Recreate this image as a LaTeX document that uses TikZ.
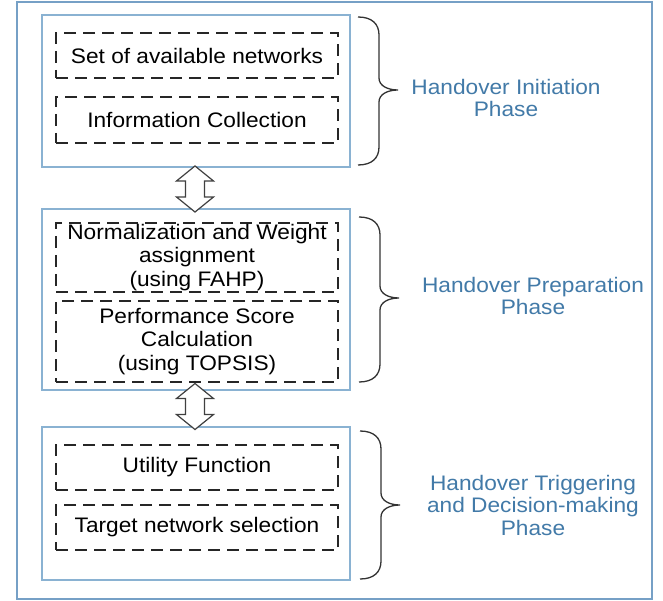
\documentclass[tikz,border=0pt]{standalone}
\usepackage{fontspec}
\setmainfont{Liberation Sans}[FakeStretch=1.08]
\usepackage{tikz}
\usetikzlibrary{calc}
\definecolor{frameblue}{RGB}{118,160,198}
\definecolor{phaseblue}{RGB}{138,178,210}
\definecolor{labelblue}{RGB}{66,122,168}
\tikzset{
    outerbox/.style={rectangle, draw=frameblue, line width=2pt, fill=white},
    phasebox/.style={rectangle, draw=phaseblue, line width=1.5pt, minimum width=308pt},
    taskbox/.style={rectangle, draw=black!85, line width=1.4pt, dash pattern=on 12pt off 7pt,
        minimum width=282pt, inner sep=0pt, align=center, font=\fontsize{21}{23.5}\selectfont},
    phaselabel/.style={align=center, text=labelblue, font=\fontsize{21}{22.5}\selectfont},
    linkarrow/.style={draw=black!75, line width=1.2pt, fill=white, line join=miter},
    bracepen/.style={draw=black!80, line width=1.3pt}
}
% curly brace: x of the ends, top, tip, bottom
\newcommand{\phasebrace}[4]{%
    \draw[bracepen] (#1,#2) .. controls (#1+14,#2) and (#1+21,#2+7) .. (#1+21,#2+18)
        -- (#1+21,#3-12) .. controls (#1+21,#3-4) and (#1+30,#3) .. (#1+40,#3)
        .. controls (#1+30,#3) and (#1+21,#3+4) .. (#1+21,#3+12)
        -- (#1+21,#4-18) .. controls (#1+21,#4-7) and (#1+14,#4) .. (#1,#4);}
% two-headed block arrow round a centre point
\newcommand{\linkbetween}[1]{%
    \draw[linkarrow] ($(#1)+(0,-23)$) -- ++(18.5,15) -- ++(-9,0) -- ++(0,16) -- ++(9,0)
        -- ++(-18.5,15) -- ++(-18.5,-15) -- ++(9,0) -- ++(0,-16) -- ++(-9,0) -- cycle;}

\begin{document}
\begin{tikzpicture}[x=1pt, y=-1pt]
    \useasboundingbox (0,0) rectangle (663,601);
    \node[outerbox, minimum width=635pt, minimum height=597pt] (outer) at (334.5,300.5) {};

    % the three phases
    \node[phasebox, minimum height=152pt] (init) at (196,91) {};
    \node[phasebox, minimum height=181pt] (prep) at (196,299.5) {};
    \node[phasebox, minimum height=153pt] (trig) at (196,503.5) {};

    \node[taskbox, minimum height=45pt] (avail) at (197,55.5) {Set of available networks};
    \node[taskbox, minimum height=46pt] (info) at (197,120) {Information Collection};

    \node[taskbox, minimum height=69pt] (norm) at (197,257.5) {Normalization and Weight\\assignment\\(using FAHP)};
    \node[taskbox, minimum height=81pt] (perf) at (197,341.5) {Performance Score\\Calculation\\(using TOPSIS)};

    \node[taskbox, minimum height=45pt] (util) at (197,467.5) {Utility Function};
    \node[taskbox, minimum height=45pt] (target) at (197,527.5) {Target network selection};

    % links between phases
    \coordinate (link1) at ($(init.south)!0.5!(prep.north)+(-1,1)$);
    \coordinate (link2) at ($(prep.south)!0.5!(trig.north)+(-1,-2)$);
    \linkbetween{link1}
    \linkbetween{link2}

    % braces and phase names
    \phasebrace{358}{17}{90}{165}
    \phasebrace{359}{217}{298}{382}
    \phasebrace{360}{431}{505}{579}

    \node[phaselabel] (initlbl) at (506,98) {Handover Initiation\\Phase};
    \node[phaselabel] (preplbl) at (533,296) {Handover Preparation\\Phase};
    \node[phaselabel] (triglbl) at (533,505) {Handover Triggering\\and Decision-making\\Phase};
\end{tikzpicture}
\end{document}
